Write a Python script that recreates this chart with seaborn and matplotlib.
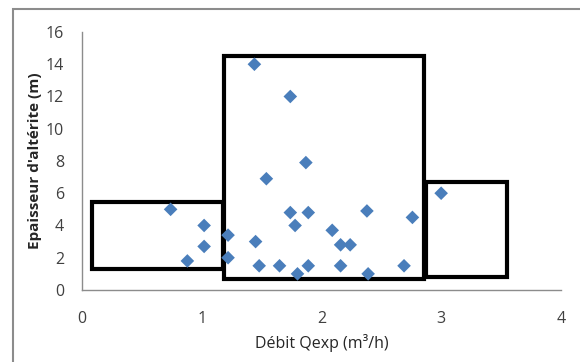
import numpy as np
import pandas as pd
import matplotlib
matplotlib.use("Agg")
import matplotlib.pyplot as plt
from matplotlib.patches import Rectangle
from matplotlib.ticker import MultipleLocator
import seaborn as sns

# measured points: debit (m3/h) vs epaisseur d'alterite (m)
debit = [0.74, 0.88, 1.02, 1.02, 1.22, 1.22, 1.44, 1.45, 1.48, 1.54,
         1.65, 1.74, 1.74, 1.78, 1.80, 1.87, 1.89, 1.89, 2.09, 2.16,
         2.24, 2.16, 2.38, 2.39, 2.69, 2.76, 3.00]
epaisseur = [5.0, 1.8, 4.0, 2.7, 3.4, 2.0, 14.0, 3.0, 1.5, 6.9,
             1.5, 12.0, 4.8, 4.0, 1.0, 7.9, 4.8, 1.5, 3.7, 2.8,
             2.8, 1.5, 4.9, 1.0, 1.5, 4.5, 6.0]

# grouping boxes: (x0, x1, y0, y1)
box_x0 = [0.08, 1.19, 2.87]
box_x1 = [1.18, 2.86, 3.55]
box_y0 = [1.3, 0.7, 0.8]
box_y1 = [5.45, 14.5, 6.7]

df = pd.DataFrame({"Debit": debit, "Epaisseur": epaisseur})

sns.set_style("white")
plt.rcParams["font.family"] = ["Open Sans", "DejaVu Sans"]

fig = plt.figure(figsize=(5.8, 3.62), dpi=100)
ax = fig.add_axes([0.1414, 0.199, 0.8256, 0.7126])

# chart area border (only top and left visible)
fig.patches.append(Rectangle((13 / 580, -0.1), 1.2, 1 - 9 / 362 + 0.1,
                             transform=fig.transFigure, fill=False,
                             edgecolor="#8c8c8c", lw=1.5))

for x0, x1, y0, y1 in zip(box_x0, box_x1, box_y0, box_y1):
    ax.add_patch(Rectangle((x0, y0), x1 - x0, y1 - y0, fill=False,
                           edgecolor="black", lw=3, joinstyle="miter", zorder=1))

sns.scatterplot(data=df, x="Debit", y="Epaisseur", marker="D", s=48,
                color="#4a7ebb", edgecolor="none", ax=ax, zorder=3)

ax.set_xlim(0, 4)
ax.set_ylim(0, 16)
ax.xaxis.set_major_locator(MultipleLocator(1))
ax.xaxis.set_minor_locator(MultipleLocator(0.2))
ax.yaxis.set_major_locator(MultipleLocator(2))
ax.yaxis.set_minor_locator(MultipleLocator(0.4))

for s in ["top", "right"]:
    ax.spines[s].set_visible(False)
for s in ["left", "bottom"]:
    ax.spines[s].set_color("#8c8c8c")
    ax.spines[s].set_linewidth(1.0)

ax.tick_params(which="major", direction="inout", length=8, width=1,
               color="#8c8c8c", labelsize=11.5, labelcolor="#404040")
ax.tick_params(which="minor", direction="in", length=3, width=1, color="#8c8c8c")
ax.tick_params(axis="x", which="major", pad=11)
ax.tick_params(axis="y", which="major", pad=9)

ax.set_xlabel("Débit Qexp (m³/h)", fontsize=11.5, color="#262626", labelpad=5)
ax.set_ylabel("Epaisseur d'altérite (m)", fontsize=11, fontweight="bold",
              color="#262626", labelpad=3)

fig.savefig("out.png", dpi=100)
